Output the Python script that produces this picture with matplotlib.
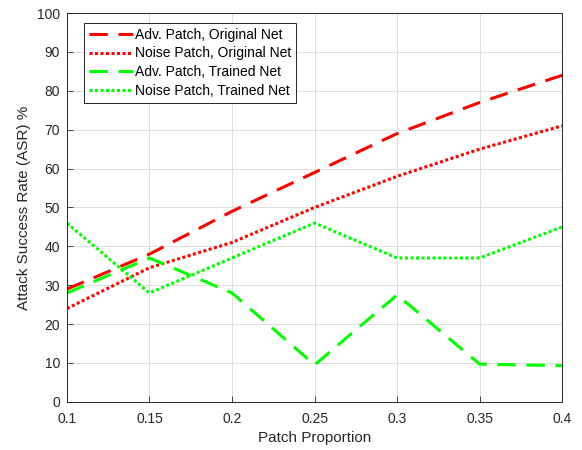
import matplotlib
matplotlib.use('Agg')
import matplotlib.pyplot as plt

plt.rcParams['font.family'] = ['Liberation Sans', 'DejaVu Sans']

proportion = [0.1, 0.15, 0.2, 0.25, 0.3, 0.35, 0.4]
adv_original = [29, 38, 49, 59, 69, 77, 84]
noise_original = [24, 34.5, 41, 50, 58, 65, 71]
adv_trained = [28, 37, 28, 9.5, 27.5, 9.7, 9.3]
noise_trained = [46, 28, 37, 46, 37, 37, 45]

labels = ['Adv. Patch, Original Net', 'Noise Patch, Original Net',
          'Adv. Patch, Trained Net', 'Noise Patch, Trained Net']

fig = plt.figure(figsize=(5.82, 4.5), dpi=100)
ax = fig.add_axes([0.115, 0.107, 0.851, 0.864])

txt = '#262626'
ax.plot(proportion, adv_original, color='#ff0000', lw=2.2, dashes=(6, 3.5), label=labels[0])
ax.plot(proportion, noise_original, color='#ff0000', lw=2.2, dashes=(1, 0.8), label=labels[1])
ax.plot(proportion, adv_trained, color='#00ff00', lw=2.2, dashes=(6, 3.5), label=labels[2])
ax.plot(proportion, noise_trained, color='#00ff00', lw=2.2, dashes=(1, 0.8), label=labels[3])

ax.set_xlim(0.1, 0.4)
ax.set_ylim(0, 100)
ax.set_xticks(proportion)
ax.set_xticklabels(['0.1', '0.15', '0.2', '0.25', '0.3', '0.35', '0.4'])
ax.set_yticks(range(0, 101, 10))
ax.grid(True, color='#dfdfdf', lw=0.7)
ax.set_axisbelow(True)
ax.tick_params(direction='in', length=4, colors=txt, labelsize=10, width=0.6)
ax.tick_params(axis='x', pad=7)
ax.tick_params(axis='y', pad=5)
for s in ax.spines.values():
    s.set_color(txt)
    s.set_linewidth(0.7)
ax.set_xlabel('Patch Proportion', fontsize=11, color=txt, labelpad=4)
ax.set_ylabel('Attack Success Rate (ASR) %', fontsize=11, color=txt, labelpad=4)

leg = ax.legend(loc='upper left', bbox_to_anchor=(0.034, 0.975), fontsize=10,
                frameon=True, fancybox=False, edgecolor=txt, framealpha=1,
                handlelength=3.2, handletextpad=0.15, borderpad=0.35, labelspacing=0.35,
                borderaxespad=0)
leg.get_frame().set_linewidth(0.7)
for t in leg.get_texts():
    t.set_color('#000000')

fig.savefig('out.png', dpi=100)
